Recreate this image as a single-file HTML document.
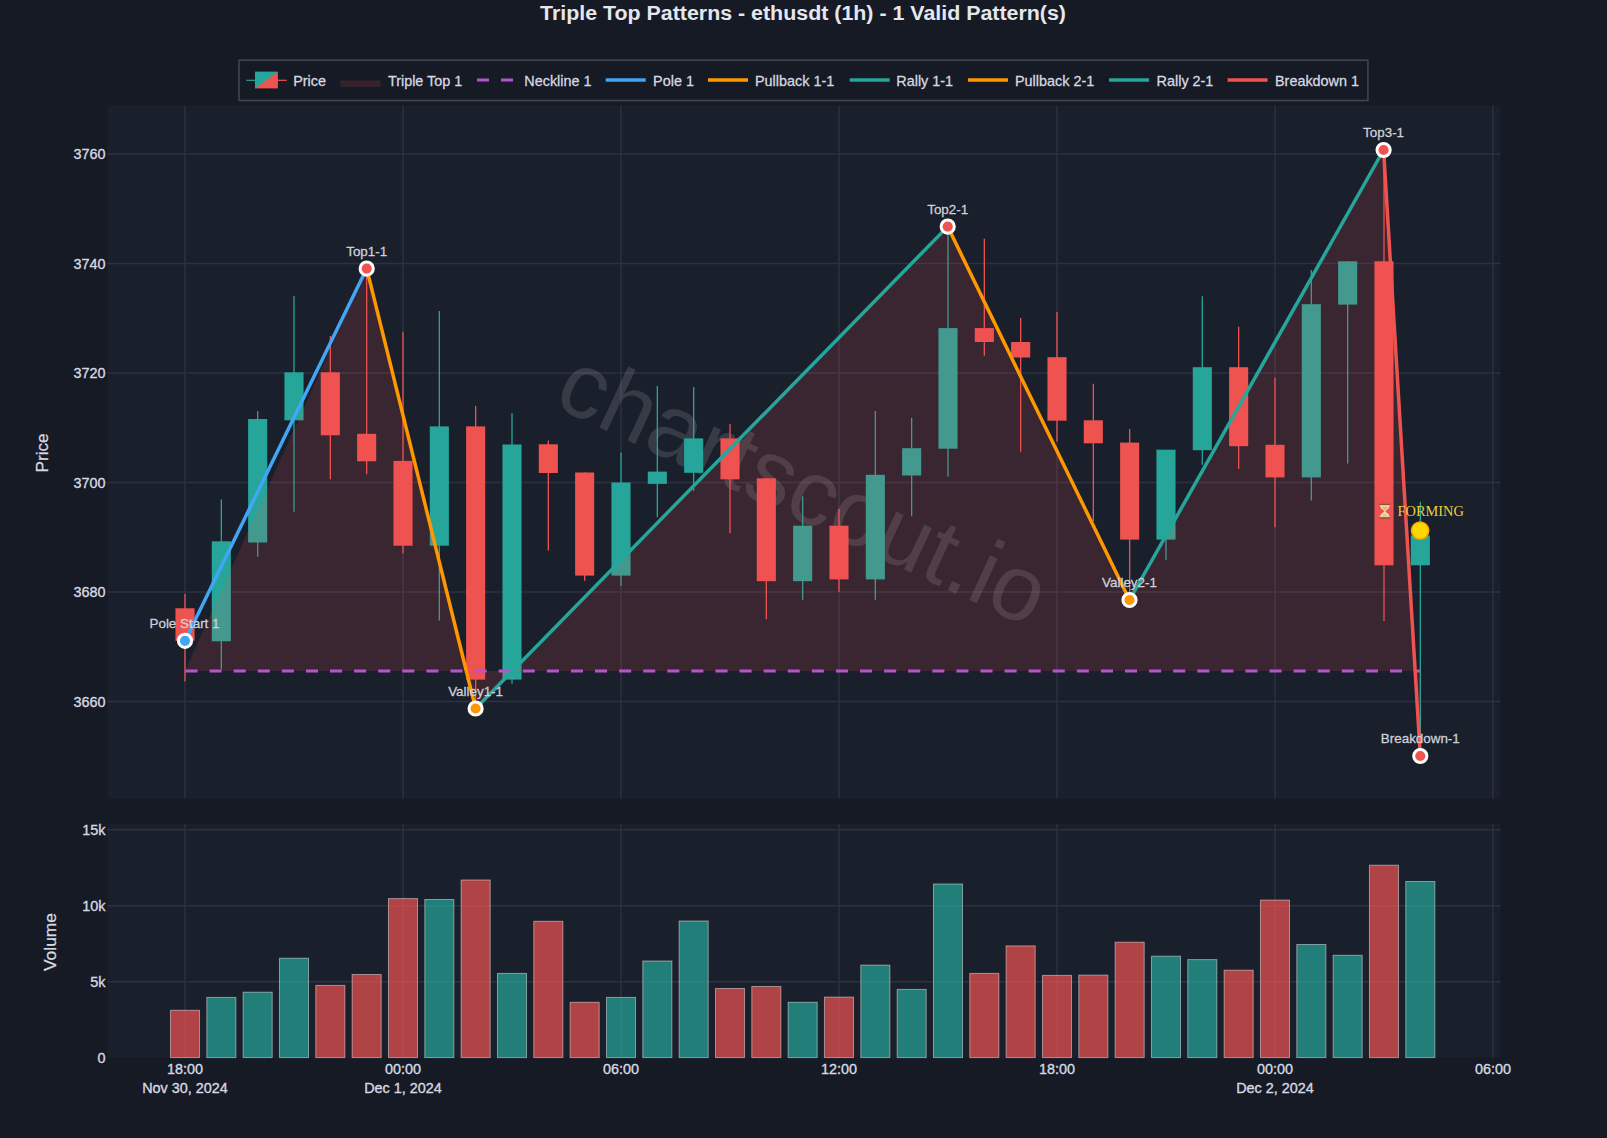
<!DOCTYPE html><html><head><meta charset="utf-8"><style>html,body{margin:0;padding:0;background:#161a25;overflow:hidden}svg{display:block}text{font-family:"Liberation Sans",sans-serif}.tk{stroke:#d6d9e0;stroke-width:0.35}.tl{stroke:#d6d9e0;stroke-width:0.28}.lb{stroke:#cfd2d9;stroke-width:0.28}</style></head><body>
<svg width="1607" height="1138" viewBox="0 0 1607 1138">
<rect x="0" y="0" width="1607" height="1138" fill="#161a25"/>
<rect x="107.5" y="105.4" width="1393.0" height="693.1" fill="#1a1f2c"/>
<rect x="107.5" y="824.0" width="1393.0" height="233.5" fill="#1a1f2c"/>
<path d="M185.0,105.4V798.5M185.0,824.0V1057.5M403.0,105.4V798.5M403.0,824.0V1057.5M621.0,105.4V798.5M621.0,824.0V1057.5M839.0,105.4V798.5M839.0,824.0V1057.5M1057.0,105.4V798.5M1057.0,824.0V1057.5M1275.0,105.4V798.5M1275.0,824.0V1057.5M1493.0,105.4V798.5M1493.0,824.0V1057.5M107.5,153.9H1500.5M107.5,263.4H1500.5M107.5,372.9H1500.5M107.5,482.4H1500.5M107.5,591.9H1500.5M107.5,701.4H1500.5M107.5,829.8H1500.5M107.5,905.8H1500.5M107.5,981.7H1500.5" stroke="#2c3242" stroke-width="1.5" fill="none"/>
<text x="804" y="487.5" transform="rotate(25 804 487.5)" text-anchor="middle" dominant-baseline="central" font-size="93" fill="#ffffff" fill-opacity="0.125">chartscout.io</text>
<path d="M185.00,593.8V681.6" stroke="#ef5350" stroke-width="1.3"/><rect x="175.45" y="608.3" width="19.1" height="32.5" fill="#ef5350"/><path d="M221.33,499.6V669.0" stroke="#26a69a" stroke-width="1.3"/><rect x="211.78" y="541.3" width="19.1" height="100.0" fill="#26a69a"/><path d="M257.67,411.0V556.7" stroke="#26a69a" stroke-width="1.3"/><rect x="248.12" y="419.0" width="19.1" height="123.5" fill="#26a69a"/><path d="M294.00,295.9V511.7" stroke="#26a69a" stroke-width="1.3"/><rect x="284.45" y="372.3" width="19.1" height="48.0" fill="#26a69a"/><path d="M330.33,336.0V479.3" stroke="#ef5350" stroke-width="1.3"/><rect x="320.78" y="372.3" width="19.1" height="63.0" fill="#ef5350"/><path d="M366.66,268.6V474.3" stroke="#ef5350" stroke-width="1.3"/><rect x="357.11" y="433.8" width="19.1" height="27.5" fill="#ef5350"/><path d="M403.00,331.8V553.6" stroke="#ef5350" stroke-width="1.3"/><rect x="393.45" y="460.9" width="19.1" height="84.8" fill="#ef5350"/><path d="M439.33,311.1V620.5" stroke="#26a69a" stroke-width="1.3"/><rect x="429.78" y="426.4" width="19.1" height="119.3" fill="#26a69a"/><path d="M475.66,406.1V708.5" stroke="#ef5350" stroke-width="1.3"/><rect x="466.11" y="426.4" width="19.1" height="253.2" fill="#ef5350"/><path d="M512.00,413.2V683.7" stroke="#26a69a" stroke-width="1.3"/><rect x="502.45" y="444.5" width="19.1" height="235.1" fill="#26a69a"/><path d="M548.33,440.5V550.4" stroke="#ef5350" stroke-width="1.3"/><rect x="538.78" y="444.3" width="19.1" height="28.7" fill="#ef5350"/><path d="M584.66,472.5V580.8" stroke="#ef5350" stroke-width="1.3"/><rect x="575.11" y="472.5" width="19.1" height="103.1" fill="#ef5350"/><path d="M621.00,452.6V586.0" stroke="#26a69a" stroke-width="1.3"/><rect x="611.45" y="482.5" width="19.1" height="93.1" fill="#26a69a"/><path d="M657.33,386.1V517.2" stroke="#26a69a" stroke-width="1.3"/><rect x="647.78" y="471.6" width="19.1" height="12.3" fill="#26a69a"/><path d="M693.66,387.1V491.0" stroke="#26a69a" stroke-width="1.3"/><rect x="684.11" y="438.4" width="19.1" height="34.4" fill="#26a69a"/><path d="M730.00,424.1V533.3" stroke="#ef5350" stroke-width="1.3"/><rect x="720.45" y="438.4" width="19.1" height="40.9" fill="#ef5350"/><path d="M766.33,478.3V619.2" stroke="#ef5350" stroke-width="1.3"/><rect x="756.78" y="478.3" width="19.1" height="102.9" fill="#ef5350"/><path d="M802.66,496.4V600.0" stroke="#26a69a" stroke-width="1.3"/><rect x="793.11" y="525.7" width="19.1" height="55.5" fill="#26a69a"/><path d="M838.99,509.1V591.9" stroke="#ef5350" stroke-width="1.3"/><rect x="829.44" y="525.7" width="19.1" height="53.7" fill="#ef5350"/><path d="M875.33,411.1V600.0" stroke="#26a69a" stroke-width="1.3"/><rect x="865.78" y="474.8" width="19.1" height="104.6" fill="#26a69a"/><path d="M911.66,417.8V516.2" stroke="#26a69a" stroke-width="1.3"/><rect x="902.11" y="448.2" width="19.1" height="27.3" fill="#26a69a"/><path d="M947.99,226.6V476.5" stroke="#26a69a" stroke-width="1.3"/><rect x="938.44" y="328.1" width="19.1" height="120.6" fill="#26a69a"/><path d="M984.33,238.8V355.8" stroke="#ef5350" stroke-width="1.3"/><rect x="974.78" y="328.1" width="19.1" height="13.9" fill="#ef5350"/><path d="M1020.66,318.1V451.8" stroke="#ef5350" stroke-width="1.3"/><rect x="1011.11" y="342.0" width="19.1" height="15.5" fill="#ef5350"/><path d="M1056.99,311.9V441.8" stroke="#ef5350" stroke-width="1.3"/><rect x="1047.44" y="357.2" width="19.1" height="63.5" fill="#ef5350"/><path d="M1093.32,383.8V521.2" stroke="#ef5350" stroke-width="1.3"/><rect x="1083.77" y="420.3" width="19.1" height="23.0" fill="#ef5350"/><path d="M1129.66,428.9V600.0" stroke="#ef5350" stroke-width="1.3"/><rect x="1120.11" y="442.6" width="19.1" height="97.0" fill="#ef5350"/><path d="M1165.99,449.7V560.3" stroke="#26a69a" stroke-width="1.3"/><rect x="1156.44" y="449.7" width="19.1" height="89.9" fill="#26a69a"/><path d="M1202.32,296.2V464.8" stroke="#26a69a" stroke-width="1.3"/><rect x="1192.77" y="367.2" width="19.1" height="83.0" fill="#26a69a"/><path d="M1238.66,326.8V469.0" stroke="#ef5350" stroke-width="1.3"/><rect x="1229.11" y="367.2" width="19.1" height="79.0" fill="#ef5350"/><path d="M1274.99,377.7V527.3" stroke="#ef5350" stroke-width="1.3"/><rect x="1265.44" y="444.8" width="19.1" height="32.6" fill="#ef5350"/><path d="M1311.32,269.9V500.6" stroke="#26a69a" stroke-width="1.3"/><rect x="1301.77" y="304.2" width="19.1" height="173.2" fill="#26a69a"/><path d="M1347.66,261.3V463.4" stroke="#26a69a" stroke-width="1.3"/><rect x="1338.11" y="261.3" width="19.1" height="43.3" fill="#26a69a"/><path d="M1383.99,150.0V621.1" stroke="#ef5350" stroke-width="1.3"/><rect x="1374.44" y="261.3" width="19.1" height="304.0" fill="#ef5350"/><path d="M1420.32,501.7V756.0" stroke="#26a69a" stroke-width="1.3"/><rect x="1410.77" y="535.5" width="19.1" height="29.8" fill="#26a69a"/>
<path d="M185.0,670.9L366.7,268.6L475.6,708.5L947.7,226.6L1129.5,600.0L1383.6,150.0L1420.3,756.0L1420.3,670.9Z" fill="#ef5350" fill-opacity="0.15" stroke="none"/>
<path d="M185.5,670.9H1420.3" stroke="#b654cf" stroke-width="3" stroke-dasharray="12.045,12.045" fill="none"/>
<path d="M185.0,640.8L366.7,268.6" stroke="#42a5f5" stroke-width="3.5" fill="none" stroke-linecap="butt"/>
<path d="M366.7,268.6L475.6,708.5" stroke="#ff9800" stroke-width="3.5" fill="none" stroke-linecap="butt"/>
<path d="M475.6,708.5L947.7,226.6" stroke="#26a69a" stroke-width="3.5" fill="none" stroke-linecap="butt"/>
<path d="M947.7,226.6L1129.5,600.0" stroke="#ff9800" stroke-width="3.5" fill="none" stroke-linecap="butt"/>
<path d="M1129.5,600.0L1383.6,150.0" stroke="#26a69a" stroke-width="3.5" fill="none" stroke-linecap="butt"/>
<path d="M1383.6,150.0L1420.3,756.0" stroke="#ef5350" stroke-width="3.5" fill="none" stroke-linecap="butt"/>
<circle cx="185.0" cy="640.8" r="6.6" fill="#42a5f5" stroke="#ffffff" stroke-width="3"/>
<circle cx="366.7" cy="268.6" r="6.6" fill="#ef5350" stroke="#ffffff" stroke-width="3"/>
<circle cx="475.6" cy="708.5" r="6.6" fill="#ff9800" stroke="#ffffff" stroke-width="3"/>
<circle cx="947.7" cy="226.6" r="6.6" fill="#ef5350" stroke="#ffffff" stroke-width="3"/>
<circle cx="1129.5" cy="600.0" r="6.6" fill="#ff9800" stroke="#ffffff" stroke-width="3"/>
<circle cx="1383.6" cy="150.0" r="6.6" fill="#ef5350" stroke="#ffffff" stroke-width="3"/>
<circle cx="1420.3" cy="756.0" r="6.6" fill="#ef5350" stroke="#ffffff" stroke-width="3"/>
<text x="184.5" y="627.7" text-anchor="middle" font-size="13.4" fill="#cfd2d9" class="lb">Pole Start 1</text>
<text x="366.7" y="255.6" text-anchor="middle" font-size="13.4" fill="#cfd2d9" class="lb">Top1-1</text>
<text x="475.6" y="695.5" text-anchor="middle" font-size="13.4" fill="#cfd2d9" class="lb">Valley1-1</text>
<text x="947.7" y="213.6" text-anchor="middle" font-size="13.4" fill="#cfd2d9" class="lb">Top2-1</text>
<text x="1129.5" y="587.0" text-anchor="middle" font-size="13.4" fill="#cfd2d9" class="lb">Valley2-1</text>
<text x="1383.6" y="137.0" text-anchor="middle" font-size="13.4" fill="#cfd2d9" class="lb">Top3-1</text>
<text x="1420.3" y="743.0" text-anchor="middle" font-size="13.4" fill="#cfd2d9" class="lb">Breakdown-1</text>
<circle cx="1420.1" cy="530.6" r="8.6" fill="#ffd700" stroke="#ffa500" stroke-width="1.6"/>
<text x="1397.5" y="515.8" font-family="Liberation Serif" font-size="14.4" fill="#e8d040" style="font-family:'Liberation Serif',serif">FORMING</text>
<g transform="translate(1384.8,511.2)"><path d="M-4.9,-6.3C-4.9,-2.2 -0.7,-1.2 -0.7,0C-0.7,1.2 -4.9,2.2 -4.9,6.3H4.9C4.9,2.2 0.7,1.2 0.7,0C0.7,-1.2 4.9,-2.2 4.9,-6.3Z" fill="#e6d8dc"/><path d="M-3.2,-4.6C-2.6,-2.6 -0.6,-1.4 0,-0.5C0.6,-1.4 2.6,-2.6 3.2,-4.6Z" fill="#e8c040"/><path d="M-3.6,5.6C-3,3.6 -1,2.8 0,2.4C1,2.8 3,3.6 3.6,5.6Z" fill="#ecd050"/><rect x="-5.3" y="-7.4" width="10.6" height="1.3" fill="#8a5030"/><rect x="-5.3" y="6.1" width="10.6" height="1.3" fill="#8a5030"/></g>
<rect x="170.47" y="1010.3" width="29.07" height="47.3" fill="#ef5350" fill-opacity="0.7" stroke="#ffffff" stroke-opacity="0.45" stroke-width="1"/><rect x="206.80" y="997.4" width="29.07" height="60.2" fill="#26a69a" fill-opacity="0.7" stroke="#ffffff" stroke-opacity="0.45" stroke-width="1"/><rect x="243.14" y="992.2" width="29.07" height="65.4" fill="#26a69a" fill-opacity="0.7" stroke="#ffffff" stroke-opacity="0.45" stroke-width="1"/><rect x="279.47" y="958.2" width="29.07" height="99.4" fill="#26a69a" fill-opacity="0.7" stroke="#ffffff" stroke-opacity="0.45" stroke-width="1"/><rect x="315.80" y="985.4" width="29.07" height="72.2" fill="#ef5350" fill-opacity="0.7" stroke="#ffffff" stroke-opacity="0.45" stroke-width="1"/><rect x="352.13" y="974.5" width="29.07" height="83.1" fill="#ef5350" fill-opacity="0.7" stroke="#ffffff" stroke-opacity="0.45" stroke-width="1"/><rect x="388.47" y="898.6" width="29.07" height="159.0" fill="#ef5350" fill-opacity="0.7" stroke="#ffffff" stroke-opacity="0.45" stroke-width="1"/><rect x="424.80" y="899.5" width="29.07" height="158.1" fill="#26a69a" fill-opacity="0.7" stroke="#ffffff" stroke-opacity="0.45" stroke-width="1"/><rect x="461.13" y="880.0" width="29.07" height="177.6" fill="#ef5350" fill-opacity="0.7" stroke="#ffffff" stroke-opacity="0.45" stroke-width="1"/><rect x="497.47" y="973.4" width="29.07" height="84.2" fill="#26a69a" fill-opacity="0.7" stroke="#ffffff" stroke-opacity="0.45" stroke-width="1"/><rect x="533.80" y="921.3" width="29.07" height="136.3" fill="#ef5350" fill-opacity="0.7" stroke="#ffffff" stroke-opacity="0.45" stroke-width="1"/><rect x="570.13" y="1002.3" width="29.07" height="55.3" fill="#ef5350" fill-opacity="0.7" stroke="#ffffff" stroke-opacity="0.45" stroke-width="1"/><rect x="606.47" y="997.4" width="29.07" height="60.2" fill="#26a69a" fill-opacity="0.7" stroke="#ffffff" stroke-opacity="0.45" stroke-width="1"/><rect x="642.80" y="961.0" width="29.07" height="96.6" fill="#26a69a" fill-opacity="0.7" stroke="#ffffff" stroke-opacity="0.45" stroke-width="1"/><rect x="679.13" y="921.0" width="29.07" height="136.6" fill="#26a69a" fill-opacity="0.7" stroke="#ffffff" stroke-opacity="0.45" stroke-width="1"/><rect x="715.47" y="988.5" width="29.07" height="69.1" fill="#ef5350" fill-opacity="0.7" stroke="#ffffff" stroke-opacity="0.45" stroke-width="1"/><rect x="751.80" y="986.5" width="29.07" height="71.1" fill="#ef5350" fill-opacity="0.7" stroke="#ffffff" stroke-opacity="0.45" stroke-width="1"/><rect x="788.13" y="1002.3" width="29.07" height="55.3" fill="#26a69a" fill-opacity="0.7" stroke="#ffffff" stroke-opacity="0.45" stroke-width="1"/><rect x="824.46" y="997.1" width="29.07" height="60.5" fill="#ef5350" fill-opacity="0.7" stroke="#ffffff" stroke-opacity="0.45" stroke-width="1"/><rect x="860.80" y="965.1" width="29.07" height="92.5" fill="#26a69a" fill-opacity="0.7" stroke="#ffffff" stroke-opacity="0.45" stroke-width="1"/><rect x="897.13" y="989.4" width="29.07" height="68.2" fill="#26a69a" fill-opacity="0.7" stroke="#ffffff" stroke-opacity="0.45" stroke-width="1"/><rect x="933.46" y="884.0" width="29.07" height="173.6" fill="#26a69a" fill-opacity="0.7" stroke="#ffffff" stroke-opacity="0.45" stroke-width="1"/><rect x="969.80" y="973.4" width="29.07" height="84.2" fill="#ef5350" fill-opacity="0.7" stroke="#ffffff" stroke-opacity="0.45" stroke-width="1"/><rect x="1006.13" y="945.9" width="29.07" height="111.7" fill="#ef5350" fill-opacity="0.7" stroke="#ffffff" stroke-opacity="0.45" stroke-width="1"/><rect x="1042.46" y="975.4" width="29.07" height="82.2" fill="#ef5350" fill-opacity="0.7" stroke="#ffffff" stroke-opacity="0.45" stroke-width="1"/><rect x="1078.79" y="975.1" width="29.07" height="82.5" fill="#ef5350" fill-opacity="0.7" stroke="#ffffff" stroke-opacity="0.45" stroke-width="1"/><rect x="1115.13" y="942.2" width="29.07" height="115.4" fill="#ef5350" fill-opacity="0.7" stroke="#ffffff" stroke-opacity="0.45" stroke-width="1"/><rect x="1151.46" y="956.2" width="29.07" height="101.4" fill="#26a69a" fill-opacity="0.7" stroke="#ffffff" stroke-opacity="0.45" stroke-width="1"/><rect x="1187.79" y="959.6" width="29.07" height="98.0" fill="#26a69a" fill-opacity="0.7" stroke="#ffffff" stroke-opacity="0.45" stroke-width="1"/><rect x="1224.13" y="970.2" width="29.07" height="87.4" fill="#ef5350" fill-opacity="0.7" stroke="#ffffff" stroke-opacity="0.45" stroke-width="1"/><rect x="1260.46" y="900.1" width="29.07" height="157.5" fill="#ef5350" fill-opacity="0.7" stroke="#ffffff" stroke-opacity="0.45" stroke-width="1"/><rect x="1296.79" y="944.5" width="29.07" height="113.1" fill="#26a69a" fill-opacity="0.7" stroke="#ffffff" stroke-opacity="0.45" stroke-width="1"/><rect x="1333.13" y="955.3" width="29.07" height="102.3" fill="#26a69a" fill-opacity="0.7" stroke="#ffffff" stroke-opacity="0.45" stroke-width="1"/><rect x="1369.46" y="865.2" width="29.07" height="192.4" fill="#ef5350" fill-opacity="0.7" stroke="#ffffff" stroke-opacity="0.45" stroke-width="1"/><rect x="1405.79" y="881.5" width="29.07" height="176.1" fill="#26a69a" fill-opacity="0.7" stroke="#ffffff" stroke-opacity="0.45" stroke-width="1"/>
<text x="105.5" y="159.1" text-anchor="end" font-size="14.4" fill="#d6d9e0" class="tk">3760</text>
<text x="105.5" y="268.59999999999997" text-anchor="end" font-size="14.4" fill="#d6d9e0" class="tk">3740</text>
<text x="105.5" y="378.09999999999997" text-anchor="end" font-size="14.4" fill="#d6d9e0" class="tk">3720</text>
<text x="105.5" y="487.59999999999997" text-anchor="end" font-size="14.4" fill="#d6d9e0" class="tk">3700</text>
<text x="105.5" y="597.1" text-anchor="end" font-size="14.4" fill="#d6d9e0" class="tk">3680</text>
<text x="105.5" y="706.6" text-anchor="end" font-size="14.4" fill="#d6d9e0" class="tk">3660</text>
<text x="105.5" y="835.0" text-anchor="end" font-size="14.4" fill="#d6d9e0" class="tk">15k</text>
<text x="105.5" y="911.0" text-anchor="end" font-size="14.4" fill="#d6d9e0" class="tk">10k</text>
<text x="105.5" y="986.9000000000001" text-anchor="end" font-size="14.4" fill="#d6d9e0" class="tk">5k</text>
<text x="105.5" y="1062.8" text-anchor="end" font-size="14.4" fill="#d6d9e0" class="tk">0</text>
<text x="185.0" y="1073.8" text-anchor="middle" font-size="14.4" fill="#d6d9e0" class="tk">18:00</text>
<text x="185.0" y="1092.8" text-anchor="middle" font-size="14.4" fill="#d6d9e0" class="tk">Nov 30, 2024</text>
<text x="403.0" y="1073.8" text-anchor="middle" font-size="14.4" fill="#d6d9e0" class="tk">00:00</text>
<text x="403.0" y="1092.8" text-anchor="middle" font-size="14.4" fill="#d6d9e0" class="tk">Dec 1, 2024</text>
<text x="621.0" y="1073.8" text-anchor="middle" font-size="14.4" fill="#d6d9e0" class="tk">06:00</text>
<text x="839.0" y="1073.8" text-anchor="middle" font-size="14.4" fill="#d6d9e0" class="tk">12:00</text>
<text x="1057.0" y="1073.8" text-anchor="middle" font-size="14.4" fill="#d6d9e0" class="tk">18:00</text>
<text x="1275.0" y="1073.8" text-anchor="middle" font-size="14.4" fill="#d6d9e0" class="tk">00:00</text>
<text x="1275.0" y="1092.8" text-anchor="middle" font-size="14.4" fill="#d6d9e0" class="tk">Dec 2, 2024</text>
<text x="1493.0" y="1073.8" text-anchor="middle" font-size="14.4" fill="#d6d9e0" class="tk">06:00</text>
<text x="48" y="452.9" transform="rotate(-90 48 452.9)" text-anchor="middle" font-size="17.2" fill="#d6d9e0" class="tl">Price</text>
<text x="56" y="942" transform="rotate(-90 56 942)" text-anchor="middle" font-size="17.4" fill="#d6d9e0" class="tl">Volume</text>
<text x="803" y="20.1" text-anchor="middle" font-size="20" font-weight="bold" fill="#e4e7ee" textLength="526" lengthAdjust="spacingAndGlyphs">Triple Top Patterns - ethusdt (1h) - 1 Valid Pattern(s)</text>
<rect x="239.0" y="60.2" width="1128.9" height="40.3" fill="#161a25" stroke="#3f4450" stroke-width="1.6"/>
<path d="M246.3,80.3H255" stroke="#26a69a" stroke-width="1.2"/><path d="M277.9,80.3H286.8" stroke="#ef5350" stroke-width="1.2"/>
<path d="M255,71.8H277.9V88.4H255Z" fill="#ef5350"/><path d="M255,71.8H277.9L255,88.4Z" fill="#26a69a"/>
<text x="293.2" y="86.2" font-size="14.4" fill="#d6d9e0" class="tl">Price</text>
<rect x="340.5" y="80.5" width="40" height="6.5" fill="#ef5350" fill-opacity="0.15"/>
<text x="387.9" y="86.2" font-size="14.4" fill="#d6d9e0" class="tl">Triple Top 1</text>
<path d="M477,80.0H513" stroke="#b654cf" stroke-width="3" stroke-dasharray="12,12"/>
<text x="524.3" y="86.2" font-size="14.4" fill="#d6d9e0" class="tl">Neckline 1</text>
<path d="M605.7,80.0H645.7" stroke="#42a5f5" stroke-width="3.5"/>
<text x="653.1" y="86.2" font-size="14.4" fill="#d6d9e0" class="tl">Pole 1</text>
<path d="M708.0,80.0H748.0" stroke="#ff9800" stroke-width="3.5"/>
<text x="755.0" y="86.2" font-size="14.4" fill="#d6d9e0" class="tl">Pullback 1-1</text>
<path d="M849.7,80.0H889.7" stroke="#26a69a" stroke-width="3.5"/>
<text x="896.3" y="86.2" font-size="14.4" fill="#d6d9e0" class="tl">Rally 1-1</text>
<path d="M968.0,80.0H1008.0" stroke="#ff9800" stroke-width="3.5"/>
<text x="1015.0" y="86.2" font-size="14.4" fill="#d6d9e0" class="tl">Pullback 2-1</text>
<path d="M1109.0,80.0H1149.0" stroke="#26a69a" stroke-width="3.5"/>
<text x="1156.6" y="86.2" font-size="14.4" fill="#d6d9e0" class="tl">Rally 2-1</text>
<path d="M1227.6,80.0H1267.6" stroke="#ef5350" stroke-width="3.5"/>
<text x="1275.0" y="86.2" font-size="14.4" fill="#d6d9e0" class="tl">Breakdown 1</text>
</svg></body></html>
